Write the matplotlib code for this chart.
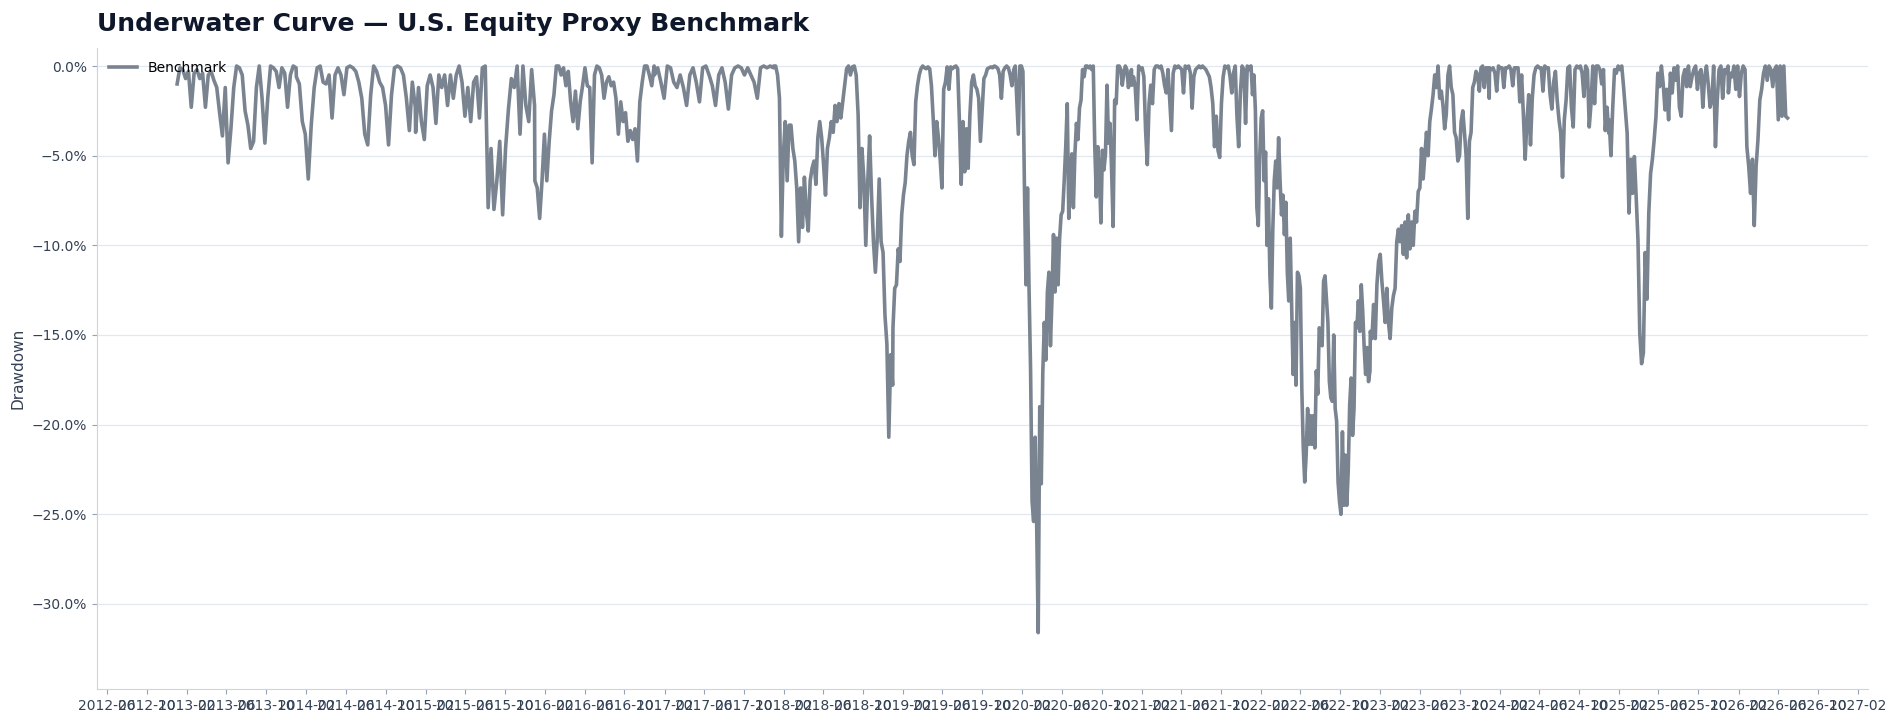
import numpy as np
import pandas as pd
import matplotlib
matplotlib.use("Agg")
import matplotlib.pyplot as plt
import matplotlib.dates as mdates
from matplotlib.ticker import PercentFormatter, MultipleLocator

######## drawdown values (%), one list per calendar year ########

dd_2013 = [-1.0, -0.1, -0.2, -0.7, -0.3, -2.3, -0.4, -0.2, -0.7, -0.4, -2.3, -0.5, -0.3, -0.8,
           -1.2, -2.6, -3.9, -1.2, -5.4, -3.5, -1.2, 0.0, -0.1, -0.5, -2.5, -3.3, -4.6, -4.2,
           -1.2, 0.0, -1.8, -4.3, -1.8, 0.0, -0.1, -0.3, -1.2, -0.1, -0.4, -2.3, -0.5, 0.0, -0.1]
dd_2014 = [-0.6, -1.0, -3.1, -3.8, -6.3, -3.3, -1.2, -0.1, 0.0, -0.9, -1.0, -0.5, -2.9, -0.5,
           -0.1, -0.5, -1.6, -0.1, 0.0, -0.1, -0.3, -0.9, -1.8, -3.8, -4.4, -1.6, 0.0, -0.3,
           -0.9, -1.2, -2.2, -4.4, -1.6, -0.1, 0.0, -0.1, -0.5, -1.8, -3.6, -0.9, -2.3]
dd_2015 = [-3.7, -1.2, -3.1, -4.1, -1.1, -0.5, -1.2, -3.2, -0.5, -1.2, -0.5, -2.2, -0.5, -1.8,
           -0.5, 0.0, -0.9, -2.8, -1.2, -3.1, -0.9, -0.6, -2.9, -0.1, 0.0, -7.9, -4.6, -8.0,
           -6.4, -4.2, -8.3, -4.6, -2.4, -0.7, -1.2, 0.0, -3.8, 0.0, -2.2, -3.1, -0.2, -2.2]
dd_2016 = [-6.4, -6.8, -8.5, -6.4, -3.8, -6.4, -4.2, -2.5, -1.6, 0.0, 0.0, -0.5, -0.1, -1.1,
           -0.3, -2.0, -3.1, -1.4, -3.5, -2.0, -1.1, -0.1, -1.1, -1.2, -5.4, -0.5, 0.0, -0.1,
           -0.5, -1.8, -0.9, -0.6, -1.1, -0.9, -1.8, -3.8, -2.0, -3.1, -2.6, -4.2, -3.6, -4.1,
           -3.5, -5.3, -2.0, -0.9, 0.0, 0.0, -0.5, -1.1, 0.0]
dd_2017 = [-0.5, -0.1, -0.9, -1.8, 0.0, -0.1, -0.9, -1.2, -0.5, -1.2, -2.2, -0.5, -0.1, -0.9,
           -2.0, -0.1, 0.0, -0.5, -1.1, -2.2, -0.5, -0.1, -0.9, -2.4, -0.5, -0.1, 0.0, -0.1,
           -0.5, -0.1, -0.5, -0.9, -1.8, -0.1, 0.0, -0.1, 0.0, -0.1]
dd_2018 = [0.0, 0.0, -0.5, -1.8, -9.5, -5.0, -3.1, -6.4, -3.3, -3.3, -4.6, -5.3, -6.8, -9.8,
           -6.8, -9.0, -6.2, -8.1, -9.2, -6.4, -5.7, -5.3, -6.6, -4.0, -3.1,
           -4.0, -5.5, -7.2, -4.6, -4.0, -3.1, -3.7, -2.2, -3.1, -2.1, -2.9, -2.0, -1.1, -0.15,
           0.0, -0.5, -0.05, 0.0, -0.5, -2.7, -7.9, -4.6, -6.3, -10.0, -6.5, -3.9, -7.2, -9.8,
           -11.5, -9.6, -6.3, -9.8, -10.4, -13.9, -15.5, -20.7, -16.1, -17.8]
dd_2019 = [-14.6, -12.4, -12.2, -10.2, -10.9, -8.3, -7.2, -6.5, -5.0, -4.2, -3.7, -5.0, -5.5,
           -2.0, -1.1, -0.5, -0.15, 0.0, -0.1, -0.15, -0.05, -0.15, -1.1, -2.9, -5.0, -3.1,
           -4.0, -5.2, -6.8, -1.3, -0.9, -0.05, -1.3, -0.05, -0.15, -0.05, 0.0, -0.15, -3.1,
           -6.6, -3.1, -5.9, -3.5, -5.7, -2.7, -0.9, -0.5, -1.1, -1.3, -1.8, -4.2, -2.4, -0.7,
           -0.5, -0.15, -0.1, -0.05, -0.1, 0.0, -0.05, -0.15, -0.5, -1.8, -0.3, -0.1, 0.0,
           -0.1, -0.5, -1.1]
dd_2020 = [-0.9, -0.2, 0.0, -1.9, -3.8, 0.0, 0.0, -0.3, -6.8, -12.2, -6.8, -12.4, -16.9, -24.3,
           -25.4, -20.7, -25.6, -31.6, -19.0, -23.3, -17.1, -14.3, -16.4, -12.6, -11.5, -15.6,
           -13.0, -9.4, -12.6, -9.6, -12.2, -9.6, -8.3, -8.1, -6.4, -4.5, -2.1, -8.5, -6.0,
           -4.9, -7.9, -4.9, -3.2, -4.1, -2.35, -1.9, -0.2, -0.6, 0.0, 0.0, -0.1, 0.0, -0.2,
           0.0, -4.5, -7.3, -4.5, -5.8, -8.75, -4.7, -5.8, -4.9, -1.07, -4.3, -3.2, -5.8, -8.95,
           -1.9, -2.1, 0.0, 0.0, -0.2, -1.07, -0.4, 0.0, -0.2, -1.2, -0.6, -0.2]
dd_2021 = [-1.07, -0.6, -1.2, -3.0, 0.0, -0.2, -0.1, -0.6, -3.6, -5.5, -2.1, -1.07, -2.1, -0.2,
           0.0, 0.0, -0.1, 0.0, -0.4, -1.07, -1.5, -0.2, -1.9, -3.6, -0.4, 0.0, -0.1, 0.0,
           -0.1, -0.2, -1.5, 0.0, -0.1, 0.0, -0.4, -2.35, -0.6, -0.2, -0.1, 0.0, -0.1, 0.0,
           -0.1, -0.2, -0.4, -0.6, -1.2, -2.1, -4.5, -2.8, -4.7, -5.1, -2.1, -0.6, 0.0, -0.1,
           0.0, -0.6, -1.5, -0.4, 0.0, -2.8, -4.5, -1.5, 0.0, -0.2, -3.2, 0.0, -0.2, 0.0]
dd_2022 = [0.0, -1.6, -0.5, -2.5, -7.9, -8.9, -5.0, -2.9, -2.5, -6.4, -4.8, -10.0, -7.4, -11.7,
           -13.5, -9.1, -6.4, -5.3, -6.8, -4.0, -6.4, -8.3, -7.2, -9.4, -7.6, -11.5, -13.1,
           -9.6, -13.5, -17.2, -14.3, -17.8, -11.5, -11.7, -12.4, -18.0, -21.3, -23.2, -21.7,
           -19.1, -21.1, -19.5, -21.1, -19.5, -21.3, -17.0, -18.3, -14.6, -14.8, -15.6, -12.0,
           -11.7, -13.0, -14.3, -17.6, -18.5, -18.7, -15.0, -19.1, -19.8, -23.2, -24.3, -25.0,
           -20.4, -24.5, -21.7, -24.5, -22.6, -18.9, -17.4, -20.6, -19.1, -14.3, -14.6, -13.1,
           -14.8, -12.2, -13.7, -15.7, -17.2, -15.7, -17.6, -17.0]
dd_2023 = [-14.8, -15.2, -13.3, -15.2, -12.2, -10.9, -10.5, -12.0, -13.1, -14.3, -12.4, -14.3,
           -15.2, -13.5, -12.8, -12.4, -9.8, -9.1, -9.8, -8.9, -10.5, -8.7, -10.7, -8.3, -10.2,
           -8.7, -10.0, -8.1, -8.7, -7.0, -6.8, -4.6, -6.3, -5.0, -3.7, -5.0, -3.1, -2.4, -1.6,
           -0.5, -1.2, 0.0, -1.8, -1.4, -2.2, -3.5, -2.7, -0.5, 0.0, -1.2, -1.6, -3.7, -4.0,
           -5.3, -5.0, -3.1, -2.5, -3.7, -5.0, -8.5, -4.2, -3.7, -1.2, -0.9, -0.3, -0.5, -1.4,
           -0.1, 0.0, -1.2, -0.1, -0.1, -1.8]
dd_2024 = [-0.1, -0.2, -0.1, -0.4, -1.4, 0.0, -0.1, -0.1, -1.2, -0.1, -0.1, 0.0, -0.2, -1.1,
           -0.1, -0.1, -0.1, -2.0, -0.5, -2.7, -5.2, -3.1, -1.6, -4.4, -1.8, -0.5, -0.1, 0.0,
           -0.1, -0.1, -1.4, 0.0, -0.1, -0.1, -1.6, -2.4, -0.9, -0.3,
           -1.9, -3.0, -3.75, -6.2, -3.0, -1.9, -0.1, 0.0, -2.3, -3.4, -0.2, 0.0, -0.1, 0.0,
           -0.4, -1.7, 0.0, -0.2, -3.4, -2.1, 0.0, -2.1, 0.0, 0.0, -0.2, -1.0, -0.2, -3.6,
           -2.3, -3.75]
dd_2025 = [-3.0, -5.0, -2.3, -0.2, -0.4, 0.0, -0.2, 0.0, -1.15, -2.45, -3.75, -8.2, -5.2, -7.1,
           -5.05, -7.3, -9.7, -14.9, -16.6, -16.0, -10.4, -13.0, -8.2, -6.0, -5.2, -4.1, -2.8,
           -0.4, -1.15, 0.0, -1.0, -2.45, -1.3, -3.0, -0.4, -1.5, -0.1, -0.8, 0.0, -2.3, -2.8,
           -0.6, -0.2, -1.15, 0.0, -1.15, -0.6, -0.2, 0.0, -1.3, -0.4, -0.2, -2.3, -0.6, 0.0,
           -1.0, -2.3, -1.9, 0.0, -4.5, -1.9, -0.2, 0.0, -1.8, -0.2, -0.4, 0.0]
dd_2026 = [-1.5, -0.4, -0.6, 0.0, -1.3, 0.0, -1.7, -0.4, 0.0, -0.2, -4.5, -5.6, -7.1, -5.2,
           -8.9, -5.6, -4.1, -1.9, -1.3, -0.4, 0.0, -0.8, 0.0, -0.2, -1.15, -0.2, 0.0, -3.0,
           0.0, -2.8, 0.0, -2.8, -2.9]

year_lists = [(2013, dd_2013), (2014, dd_2014), (2015, dd_2015), (2016, dd_2016),
              (2017, dd_2017), (2018, dd_2018), (2019, dd_2019), (2020, dd_2020),
              (2021, dd_2021), (2022, dd_2022), (2023, dd_2023), (2024, dd_2024),
              (2025, dd_2025), (2026, dd_2026)]
last_date = "2026-07-01"

# spread each year's readings over that year
dates = []
vals = []
for yr, v in year_lists:
    end = last_date if yr == 2026 else f"{yr}-12-31"
    dates.extend(pd.date_range(f"{yr}-01-01", end, periods=len(v)))
    vals.extend(v)
dd = pd.Series(np.array(vals) / 100.0, index=pd.DatetimeIndex(dates))

########### plotting ###########

fig = plt.figure(figsize=(18.94, 7.23), dpi=100)
ax = fig.add_axes([0.051, 0.0466, 0.9353, 0.8869])

ax.plot(dd.index, dd.values, color="#7a8491", linewidth=2.6, label="Benchmark")

ax.set_ylim(dd.min() * 1.1, 0.01)
ax.yaxis.set_major_locator(MultipleLocator(0.05))
ax.yaxis.set_major_formatter(PercentFormatter(1.0, decimals=1))
ax.xaxis.set_major_locator(mdates.MonthLocator(bymonth=[2, 6, 10]))
ax.xaxis.set_major_formatter(mdates.DateFormatter("%Y-%m"))

ax.grid(axis="y", color="#e2e8f0", linewidth=0.9)
ax.set_axisbelow(True)
for s in ["top", "right"]:
    ax.spines[s].set_visible(False)
for s in ["left", "bottom"]:
    ax.spines[s].set_color("#cbd5e1")
ax.tick_params(colors="#94a3b8", labelcolor="#334155", labelsize=10)

ax.set_ylabel("Drawdown", fontsize=11, color="#334155")
ax.set_title("Underwater Curve \u2014 U.S. Equity Proxy Benchmark", loc="left",
             fontsize=18, fontweight="bold", color="#0f172a", pad=12.5)
ax.legend(loc="upper left", frameon=False, fontsize=10)

fig.savefig("out.png", dpi=100)
